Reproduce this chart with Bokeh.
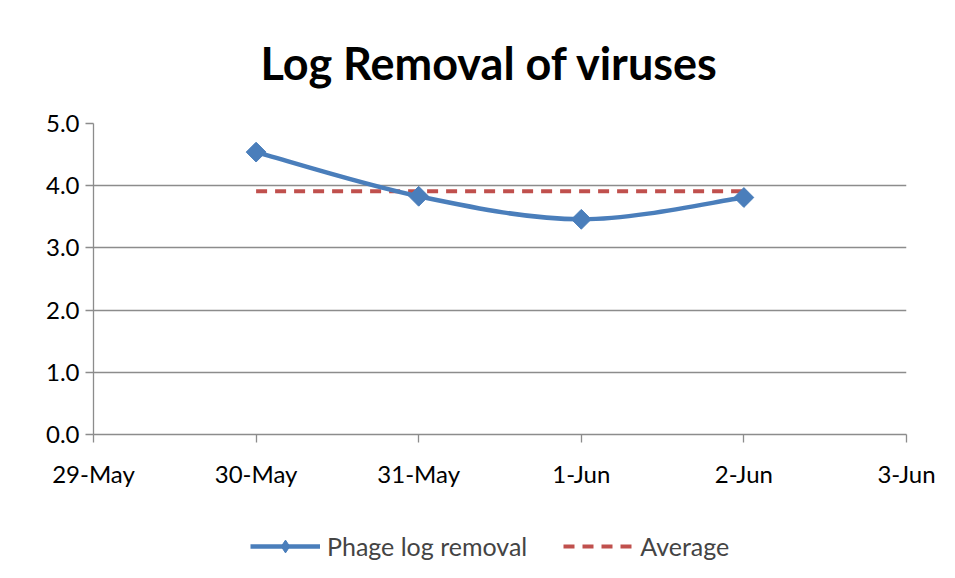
import numpy as np
import pandas as pd
from bokeh.plotting import figure
from bokeh.layouts import column
from bokeh.models import (ColumnDataSource, Legend, LegendItem, FixedTicker,
                          DatetimeTickFormatter, Range1d, NumeralTickFormatter)
from bokeh.embed import file_html
from bokeh.resources import INLINE

# ---- data ----
dates = ["2024-05-30", "2024-05-31", "2024-06-01", "2024-06-02"]
phage_log_removal = [4.54, 3.83, 3.46, 3.81]
average_value = [3.91, 3.91, 3.91, 3.91]
tick_dates = ["2024-05-29", "2024-05-30", "2024-05-31", "2024-06-01", "2024-06-02", "2024-06-03"]
y_ticks = [0, 1, 2, 3, 4, 5]
series_names = ["Phage log removal", "Average"]

BLUE = "#4A7EBB"
RED = "#C0504D"
GRID = "#8C8C8C"
FONT = "Lato"

xd = pd.to_datetime(dates)
xs = np.array([d.timestamp() * 1000 for d in xd])
ys = np.array(phage_log_removal, dtype=float)
tick_ms = [pd.Timestamp(t).timestamp() * 1000 for t in tick_dates]

# Excel-style smoothed segments (cubic Bezier, Catmull-Rom control points)
n = len(xs)
x0, y0, x1, y1, cx0, cy0, cx1, cy1 = ([] for _ in range(8))
for i in range(n - 1):
    pm = i - 1 if i > 0 else i
    pp = i + 2 if i + 2 < n else i + 1
    x0.append(xs[i]); y0.append(ys[i])
    x1.append(xs[i + 1]); y1.append(ys[i + 1])
    cx0.append(xs[i] + (xs[i + 1] - xs[pm]) / 6.0)
    cy0.append(ys[i] + (ys[i + 1] - ys[pm]) / 6.0)
    cx1.append(xs[i + 1] - (xs[pp] - xs[i]) / 6.0)
    cy1.append(ys[i + 1] - (ys[pp] - ys[i]) / 6.0)

bez_src = ColumnDataSource(dict(x0=x0, y0=y0, x1=x1, y1=y1,
                                cx0=cx0, cy0=cy0, cx1=cx1, cy1=cy1))
pt_src = ColumnDataSource(dict(x=xs, y=ys, avg=average_value))

# ---------------- main chart ----------------
p = figure(width=955, height=500, output_backend="svg", toolbar_location=None,
           x_axis_type="datetime",
           x_range=Range1d(tick_ms[0], tick_ms[-1]), y_range=Range1d(0, 5),
           min_border_left=93, min_border_right=49, min_border_top=121,
           min_border_bottom=66)

p.title.text = "Log Removal of viruses"
p.title.align = "left"
p.title.offset = 167
p.title.text_font = FONT
p.title.text_font_size = "45px"
p.title.text_font_style = "bold"
p.title.text_color = "black"
p.title.standoff = 67

p.outline_line_color = None
p.xgrid.grid_line_color = None
p.ygrid.grid_line_color = GRID
p.ygrid.grid_line_width = 1.3

p.yaxis.ticker = FixedTicker(ticks=y_ticks)
p.yaxis.formatter = NumeralTickFormatter(format="0.0")
p.xaxis.ticker = FixedTicker(ticks=tick_ms)
p.xaxis.formatter = DatetimeTickFormatter(days="%-d-%b", months="%-d-%b", hours="%-d-%b")

for ax in (p.xaxis, p.yaxis):
    ax.axis_line_color = GRID
    ax.axis_line_width = 1.3
    ax.major_tick_line_color = GRID
    ax.major_tick_line_width = 1.3
    ax.major_tick_out = 8
    ax.major_tick_in = 0
    ax.minor_tick_line_color = None
    ax.major_label_text_font = FONT
    ax.major_label_text_font_size = "24px"
    ax.major_label_text_color = "black"
p.yaxis.major_label_standoff = 6
p.xaxis.major_label_standoff = 16

p.line(x="x", y="avg", source=pt_src, line_color=RED, line_width=4, line_dash="11 8")
p.bezier(x0="x0", y0="y0", x1="x1", y1="y1", cx0="cx0", cy0="cy0",
         cx1="cx1", cy1="cy1", source=bez_src, line_color=BLUE, line_width=4.5)
p.scatter(x="x", y="y", source=pt_src, marker="square", size=14,
          angle=np.pi / 4, fill_color=BLUE, line_color=BLUE)

# ---------------- legend strip (below the chart) ----------------
# Proxy renderers share the data but the strip's ranges keep them out of view;
# they exist only so that the legend can draw its swatches.
lg = figure(width=955, height=78, output_backend="svg", toolbar_location=None,
            x_range=Range1d(0, 1), y_range=Range1d(0, 1),
            min_border_left=0, min_border_right=0, min_border_top=0, min_border_bottom=0)
lg.axis.visible = False
lg.grid.visible = False
lg.outline_line_color = None
l_blue = lg.line(x="x", y="y", source=pt_src, line_color=BLUE, line_width=4.5)
l_mark = lg.scatter(x="x", y="y", source=pt_src, marker="diamond", size=16,
                    fill_color=BLUE, line_color=BLUE)
l_red = lg.line(x="x", y="avg", source=pt_src, line_color=RED, line_width=4,
                line_dash="11 8")

legend = Legend(items=[LegendItem(label=series_names[0], renderers=[l_blue, l_mark]),
                       LegendItem(label=series_names[1], renderers=[l_red])],
                orientation="horizontal", location=(157, 16),
                label_text_font=FONT, label_text_font_size="25px",
                glyph_width=70, glyph_height=32, spacing=36, label_standoff=7,
                border_line_color=None, background_fill_alpha=0,
                margin=0, padding=0)
lg.add_layout(legend, "center")

layout = column(p, lg, spacing=0)
open("out.html", "w").write(file_html(layout, INLINE))
